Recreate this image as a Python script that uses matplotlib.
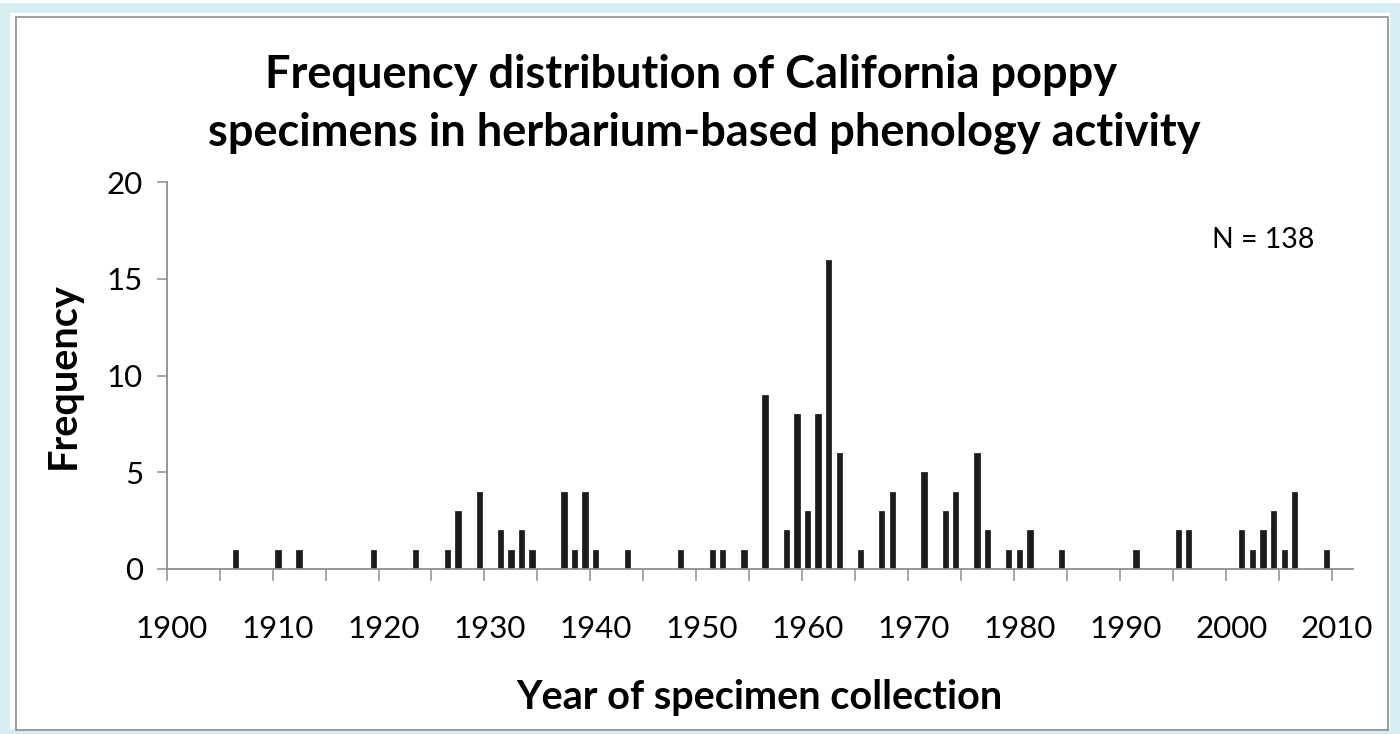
# frequency histogram of poppy specimen years

import numpy as np
import matplotlib.pyplot as plt
from matplotlib.patches import Rectangle

years = [1906, 1910, 1912, 1919, 1923, 1926, 1927, 1929, 1931, 1932, 1933, 1934,
         1937, 1938, 1939, 1940, 1943, 1948, 1951, 1952, 1954,
         1956, 1958, 1959, 1960, 1961, 1962, 1963,
         1965, 1967, 1968, 1971, 1973, 1974, 1976, 1977,
         1979, 1980, 1981, 1984, 1991, 1995, 1996,
         2001, 2002, 2003, 2004, 2005, 2006, 2009]
counts = [1, 1, 1, 1, 1, 1, 3, 4, 2, 1, 2, 1,
          4, 1, 4, 1, 1, 1, 1, 1, 1,
          9, 2, 8, 3, 8, 16, 6,
          1, 3, 4, 5, 3, 4, 6, 2,
          1, 1, 2, 1, 1, 2, 2,
          2, 1, 2, 3, 1, 4, 1]
label_years = list(range(1900, 2011, 10))
title_lines = ["Frequency distribution of California poppy",
               "specimens in herbarium-based phenology activity"]

plt.rcParams['font.family'] = ['Lato', 'DejaVu Sans']

fig = plt.figure(figsize=(14, 7.34), dpi=100)
W, H = 1400, 734

# excel-ish chart frame
fig.patches.append(Rectangle((5 / W, 0), 1390 / W, 1 - 8 / H, transform=fig.transFigure,
                             fill=False, edgecolor='#d6eef3', linewidth=7))
fig.patches.append(Rectangle((16 / W, 4 / H), 1372 / W, 1 - 21 / H, transform=fig.transFigure,
                             fill=False, edgecolor='#8e8e8e', linewidth=1.2))

ax = fig.add_axes([166.7 / W, 1 - 569 / H, (1353 - 166.7) / W, (569 - 182.3) / H])
ax.bar(np.array(years) + 0.5, counts, width=0.5, color='#1c1c1c', edgecolor='#2a2a2a', linewidth=0.6)

ax.set_xlim(1900, 2012)
ax.set_ylim(0, 20)
ax.set_yticks([0, 5, 10, 15, 20])
ax.set_xticks(np.arange(1900, 2011, 5))
ax.set_xticklabels([])
ax.set_xticks(np.array(label_years) + 0.5, minor=True)
ax.set_xticklabels([str(y) for y in label_years], minor=True)

ax.tick_params(axis='x', which='major', direction='out', length=8.6, width=1.1, color='#8e8e8e')
ax.tick_params(axis='x', which='minor', length=0, pad=33, labelsize=22.5)
ax.tick_params(axis='y', direction='out', length=7, width=1.1, color='#8e8e8e', labelsize=22.5, pad=10)

for s in ['top', 'right']:
    ax.spines[s].set_visible(False)
for s in ['left', 'bottom']:
    ax.spines[s].set_color('#8e8e8e')
    ax.spines[s].set_linewidth(1.3)

ax.set_xlabel("Year of specimen collection", fontsize=28.5, fontweight='bold', labelpad=26)
ax.set_ylabel("Frequency", fontsize=28.5, fontweight='bold', labelpad=18)

fig.text(691 / W, 1 - 75 / H, title_lines[0], ha='center', va='center', fontsize=32.5, fontweight='bold')
fig.text(704 / W, 1 - 133 / H, title_lines[1], ha='center', va='center', fontsize=32.5, fontweight='bold')

ax.text(0.924, 0.851, "N = 138", transform=ax.transAxes, ha='center', va='center', fontsize=20.5)

plt.savefig("out.png", dpi=100)
